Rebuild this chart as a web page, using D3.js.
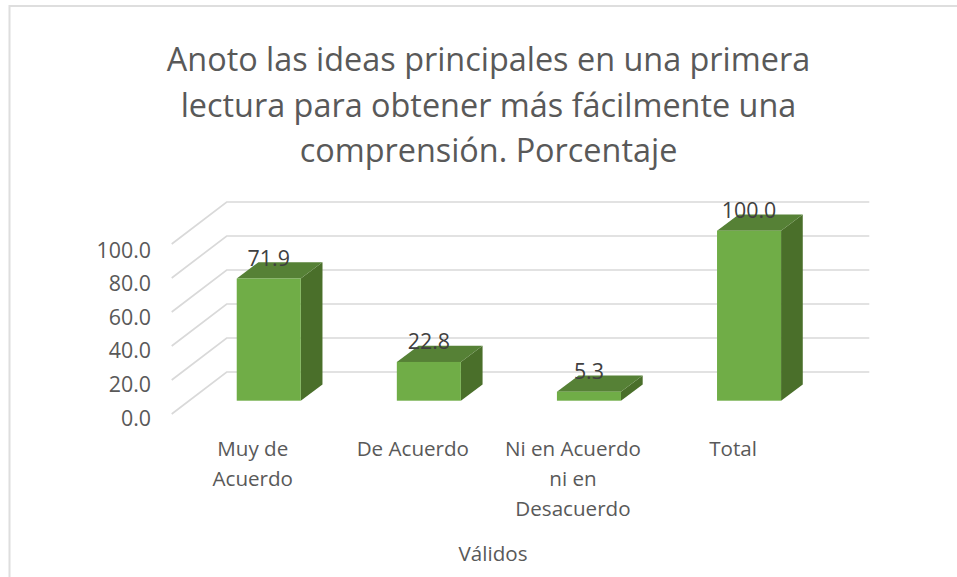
<!DOCTYPE html>
<html>
<head>
<meta charset="utf-8">
<script src="https://cdn.jsdelivr.net/npm/d3@7"></script>
<style>
body { margin: 0; background: #fff; }
text { font-family: "Open Sans", sans-serif; fill: #595959; }
</style>
</head>
<body>
<script>
var categories = [["Muy de", "Acuerdo"], ["De Acuerdo"], ["Ni en Acuerdo", "ni en", "Desacuerdo"], ["Total"]];
var values = [71.9, 22.8, 5.3, 100.0];
var yTicks = [0, 20, 40, 60, 80, 100];
var titleLines = ["Anoto las ideas principales en una primera", "lectura para obtener más fácilmente una", "comprensión. Porcentaje"];
var axisTitle = "Válidos";

var width = 957, height = 577;

var svg = d3.select("body").append("svg")
	.attr("width", width)
	.attr("height", height)
	.style("display", "block");

//chart frame, runs off the right and bottom of the picture
svg.append("rect")
	.attr("x", 9.5).attr("y", 6)
	.attr("width", 1000).attr("height", 700)
	.attr("fill", "#fff")
	.attr("stroke", "#dedede")
	.attr("stroke-width", 2);

//title
svg.append("g").selectAll("text").data(titleLines).enter().append("text")
	.attr("x", 488.5)
	.attr("y", function(d, i) { return 71 + i * 45.5; })
	.attr("text-anchor", "middle")
	.style("font-size", "32.4px")
	.text(function(d) { return d; });

//scales
var x = d3.scaleBand()
	.domain(d3.range(values.length))
	.range([188.7, 829.1])
	.paddingInner(0.6)
	.paddingOuter(0.3);

var y = d3.scaleLinear().domain([0, 100]).range([400.7, 230.7]);

//tick labels sit a bit tighter than the gridlines
var yLabel = d3.scaleLinear().domain([0, 100]).range([425.5, 257.5]);

//depth of the 3d box, of the floor and of the bars
var gridDx = 55, gridDy = -42, gridLeft = 171.7, gridBase = 414;
var barDx = 21.7, barDy = -16.3;

function gridY(v) { return gridBase + (y(v) - y(0)); }

//gridlines: a slanted side wall and the back wall
var grid = svg.append("g").attr("fill", "none").attr("stroke", "#d9d9d9").attr("stroke-width", 1.7);
grid.selectAll("polyline").data(yTicks).enter().append("polyline")
	.attr("points", function(d) {
		var py = gridY(d);
		return [[gridLeft, py], [gridLeft + gridDx, py + gridDy], [869.3, py + gridDy]].join(" ");
	});

//y tick labels
svg.append("g").selectAll("text").data(yTicks).enter().append("text")
	.attr("x", 151)
	.attr("y", function(d) { return yLabel(d); })
	.attr("text-anchor", "end")
	.style("font-size", "21.4px")
	.text(function(d) { return d3.format(".1f")(d); });

//bars
var bars = svg.append("g").selectAll("g").data(values).enter().append("g");

bars.append("path")
	.attr("fill", "#4a6f2a")
	.attr("d", function(d, i) {
		var r = x(i) + x.bandwidth();
		return d3.line()([[r, y(d)], [r + barDx, y(d) + barDy], [r + barDx, y(0) + barDy], [r, y(0)]]) + "Z";
	});

bars.append("path")
	.attr("fill", "#568136")
	.attr("d", function(d, i) {
		var l = x(i), r = l + x.bandwidth();
		return d3.line()([[l, y(d)], [l + barDx, y(d) + barDy], [r + barDx, y(d) + barDy], [r, y(d)]]) + "Z";
	});

bars.append("rect")
	.attr("fill", "#70ad47")
	.attr("x", function(d, i) { return x(i); })
	.attr("y", function(d) { return y(d); })
	.attr("width", x.bandwidth())
	.attr("height", function(d) { return y(0) - y(d); });

//value labels
bars.append("text")
	.attr("x", function(d, i) { return x(i) + x.bandwidth() / 2; })
	.attr("y", function(d) { return y(d) - 12.6; })
	.attr("text-anchor", "middle")
	.style("font-size", "21.4px")
	.style("fill", "#404040")
	.text(function(d) { return d3.format(".1f")(d); });

//category labels
var catLabels = svg.append("g").selectAll("text").data(categories).enter().append("text")
	.attr("text-anchor", "middle")
	.attr("x", function(d, i) { return x(i) + x.bandwidth() / 2 - 16; })
	.attr("y", 456)
	.style("font-size", "20.6px");

catLabels.selectAll("tspan").data(function(d) { return d; }).enter().append("tspan")
	.attr("x", function() { return d3.select(this.parentNode).attr("x"); })
	.attr("dy", function(d, i) { return i ? 30 : 0; })
	.text(function(d) { return d; });

svg.append("text")
	.attr("x", 493)
	.attr("y", 561)
	.attr("text-anchor", "middle")
	.style("font-size", "20.6px")
	.text(axisTitle);
</script>
</body>
</html>
